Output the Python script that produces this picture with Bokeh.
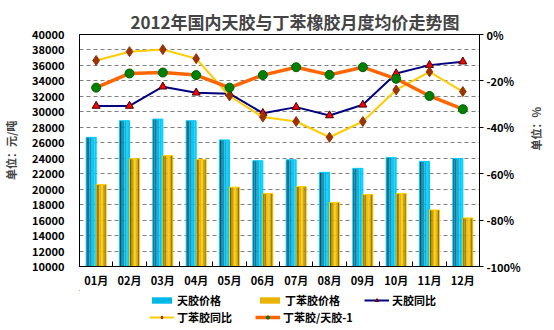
import math
from bokeh.plotting import figure
from bokeh.layouts import column
from bokeh.models import (Range1d, LinearAxis, FixedTicker, PrintfTickFormatter,
                          Legend, LegendItem)
from bokeh.embed import file_html
from bokeh.resources import INLINE

# ---------------- data ----------------
months = ["01月", "02月", "03月", "04月", "05月", "06月",
          "07月", "08月", "09月", "10月", "11月", "12月"]
rubber_price = [26700, 28850, 29060, 28850, 26370, 23680, 23800, 22180, 22690, 24100, 23590, 23970]
sbr_price = [20600, 23930, 24360, 23850, 20260, 19450, 20350, 18290, 19320, 19450, 17310, 16280]
rubber_yoy = [-30.8, -30.8, -22.5, -25.1, -25.5, -33.9, -31.3, -34.9, -30.3, -16.8, -13.2, -11.7]
sbr_yoy = [-11.2, -7.4, -6.5, -10.4, -26.5, -35.6, -37.5, -44.3, -37.5, -23.9, -16.1, -24.6]
ratio = [-22.9, -16.8, -16.4, -17.5, -22.9, -17.5, -14.1, -17.4, -14.1, -19.1, -26.5, -32.2]
left_ticks = list(range(10000, 40001, 2000))
right_ticks = [0, -20, -40, -60, -80, -100]

FONT = "Noto Sans CJK SC"
xs = list(range(1, len(months) + 1))

p = figure(width=554, height=290, output_backend="svg", toolbar_location=None,
           x_range=Range1d(0.5, 12.5), y_range=Range1d(10000, 40000),
           min_border_left=72, min_border_right=70, min_border_top=34, min_border_bottom=22)
p.extra_y_ranges = {"pct": Range1d(-100, 0)}

p.title.text = "2012年国内天胶与丁苯橡胶月度均价走势图"
p.title.align = "left"
p.title.text_font = FONT
p.title.text_font_size = "17px"
p.title.text_font_style = "bold"
p.title.offset = 51
p.title.standoff = 2

p.outline_line_color = "black"
p.outline_line_width = 1
p.background_fill_color = "white"
p.border_fill_color = "white"

# grid
p.xgrid.visible = False
p.ygrid.ticker = FixedTicker(ticks=left_ticks)
p.ygrid.grid_line_color = "#808080"
p.ygrid.grid_line_dash = "4 3"
p.ygrid.grid_line_width = 1

# x axis
xa = p.xaxis[0]
xa.ticker = FixedTicker(ticks=xs, minor_ticks=[x + 0.5 for x in xs[:-1]])
xa.major_label_overrides = {x: m for x, m in zip(xs, months)}
xa.major_tick_in = 0
xa.major_tick_out = 0
xa.minor_tick_in = 5
xa.minor_tick_out = 0
xa.minor_tick_line_color = "black"
xa.major_label_standoff = 5

# left axis
ya = p.yaxis[0]
ya.ticker = FixedTicker(ticks=left_ticks)
ya.formatter = PrintfTickFormatter(format="%d")
ya.major_tick_in = 0
ya.major_tick_out = 0
ya.minor_tick_in = 0
ya.minor_tick_out = 0
ya.major_label_standoff = 15
ya.axis_label = "单位：元/吨"
ya.axis_label_standoff = 10

# right axis
ra = LinearAxis(y_range_name="pct", ticker=FixedTicker(ticks=right_ticks),
                formatter=PrintfTickFormatter(format="%d%%"))
ra.major_tick_in = 0
ra.major_tick_out = 4
ra.minor_tick_in = 0
ra.minor_tick_out = 0
ra.major_label_standoff = 3
ra.axis_label = "单位：%"
ra.axis_label_standoff = 12
try:
    ra.axis_label_orientation = math.pi / 2
except Exception:
    pass
p.add_layout(ra, "right")

for ax in [xa, ya, ra]:
    ax.major_label_text_font = FONT
    ax.major_label_text_font_size = "11px"
    ax.major_label_text_font_style = "bold"
    ax.major_label_text_color = "black"
    ax.axis_label_text_font = FONT
    ax.axis_label_text_font_size = "11px"
    ax.axis_label_text_font_style = "bold"
    ax.axis_line_color = "black"
    ax.major_tick_line_color = "black"

# ---------------- bars (gradient strips) ----------------
bw = 0.3
blue_shades = ["#0A5570", "#0A7898", "#0699C4", "#02B6E4", "#00C8F8", "#00CCFF"]
yellow_shades = ["#7A5E00", "#B08600", "#E8B400", "#FFCC00", "#D9A800", "#8A6C00"]
bottoms = [10000] * len(xs)


def draw_bars(center_off, values, shades, edge):
    n = len(shades)
    sw = bw / n
    for i, c in enumerate(shades):
        off = center_off - bw / 2 + sw * (i + 0.5)
        p.vbar(x=[x + off for x in xs], width=sw * 1.02, top=values, bottom=bottoms,
               fill_color=c, line_color=None)
    p.vbar(x=[x + center_off for x in xs], width=bw, top=values, bottom=bottoms,
           fill_alpha=0, line_color=edge, line_width=1)


draw_bars(-0.15, rubber_price, blue_shades, "#00CCFF")
draw_bars(0.15, sbr_price, yellow_shades, "#FFCC00")

# ---------------- lines ----------------
LINE_STYLES = [
    dict(values=rubber_yoy, color="#000080", width=2, marker="triangle", size=8,
         fill="#FF0000", edge="#400000"),
    dict(values=sbr_yoy, color="#FFCC00", width=2, marker="diamond", size=10,
         fill="#993300", edge="#993300"),
    dict(values=ratio, color="#FF6600", width=3.5, marker="circle", size=9,
         fill="#008000", edge="#006000"),
]
for st in LINE_STYLES:
    p.line(xs, st["values"], y_range_name="pct", line_color=st["color"], line_width=st["width"])
    p.scatter(xs, st["values"], y_range_name="pct", marker=st["marker"], size=st["size"],
              fill_color=st["fill"], line_color=st["edge"], line_width=1)

# ---------------- legend strip (separate figure below) ----------------
# proxies: same series, far outside this strip's ranges, so only legend swatches show
lf = figure(width=554, height=40, output_backend="svg", toolbar_location=None,
            x_range=Range1d(100, 101), y_range=Range1d(100, 101),
            x_axis_location=None, y_axis_location=None,
            min_border_left=0, min_border_right=0, min_border_top=0, min_border_bottom=0)
lf.outline_line_color = None
lf.xgrid.visible = False
lf.ygrid.visible = False
lf.border_fill_color = "white"
lf.background_fill_color = "white"

blue_leg = lf.vbar(x=xs, width=0.3, top=rubber_price, bottom=bottoms,
                   fill_color="#00B8E8", line_color=None)
yel_leg = lf.vbar(x=xs, width=0.3, top=sbr_price, bottom=bottoms,
                  fill_color="#E8B400", line_color=None)
leg_rends = []
for st in LINE_STYLES:
    lr = lf.line(xs, st["values"], line_color=st["color"], line_width=st["width"])
    sr = lf.scatter(xs, st["values"], marker=st["marker"], size=st["size"],
                    fill_color=st["fill"], line_color=st["edge"], line_width=1)
    leg_rends.append([lr, sr])

FRAME_LEFT = 72


def mk_legend(label, rends, gx, vy):
    lg = Legend(items=[LegendItem(label=label, renderers=rends)], location=(gx - FRAME_LEFT, vy),
                orientation="horizontal", padding=0, margin=0, spacing=0,
                border_line_color=None, background_fill_alpha=0,
                glyph_width=25, glyph_height=8, label_height=14,
                label_standoff=3,
                label_text_font=FONT, label_text_font_size="11px",
                label_text_font_style="bold", label_text_color="black")
    lf.add_layout(lg, "center")


mk_legend("天胶价格", [blue_leg], 142, 22)
mk_legend("丁苯胶价格", [yel_leg], 250, 22)
mk_legend("天胶同比", leg_rends[0], 357, 22)
mk_legend("丁苯胶同比", leg_rends[1], 142, 5)
mk_legend("丁苯胶/天胶-1", leg_rends[2], 248, 5)

layout = column(p, lf, spacing=0)
open("out.html", "w").write(file_html(layout, INLINE))
